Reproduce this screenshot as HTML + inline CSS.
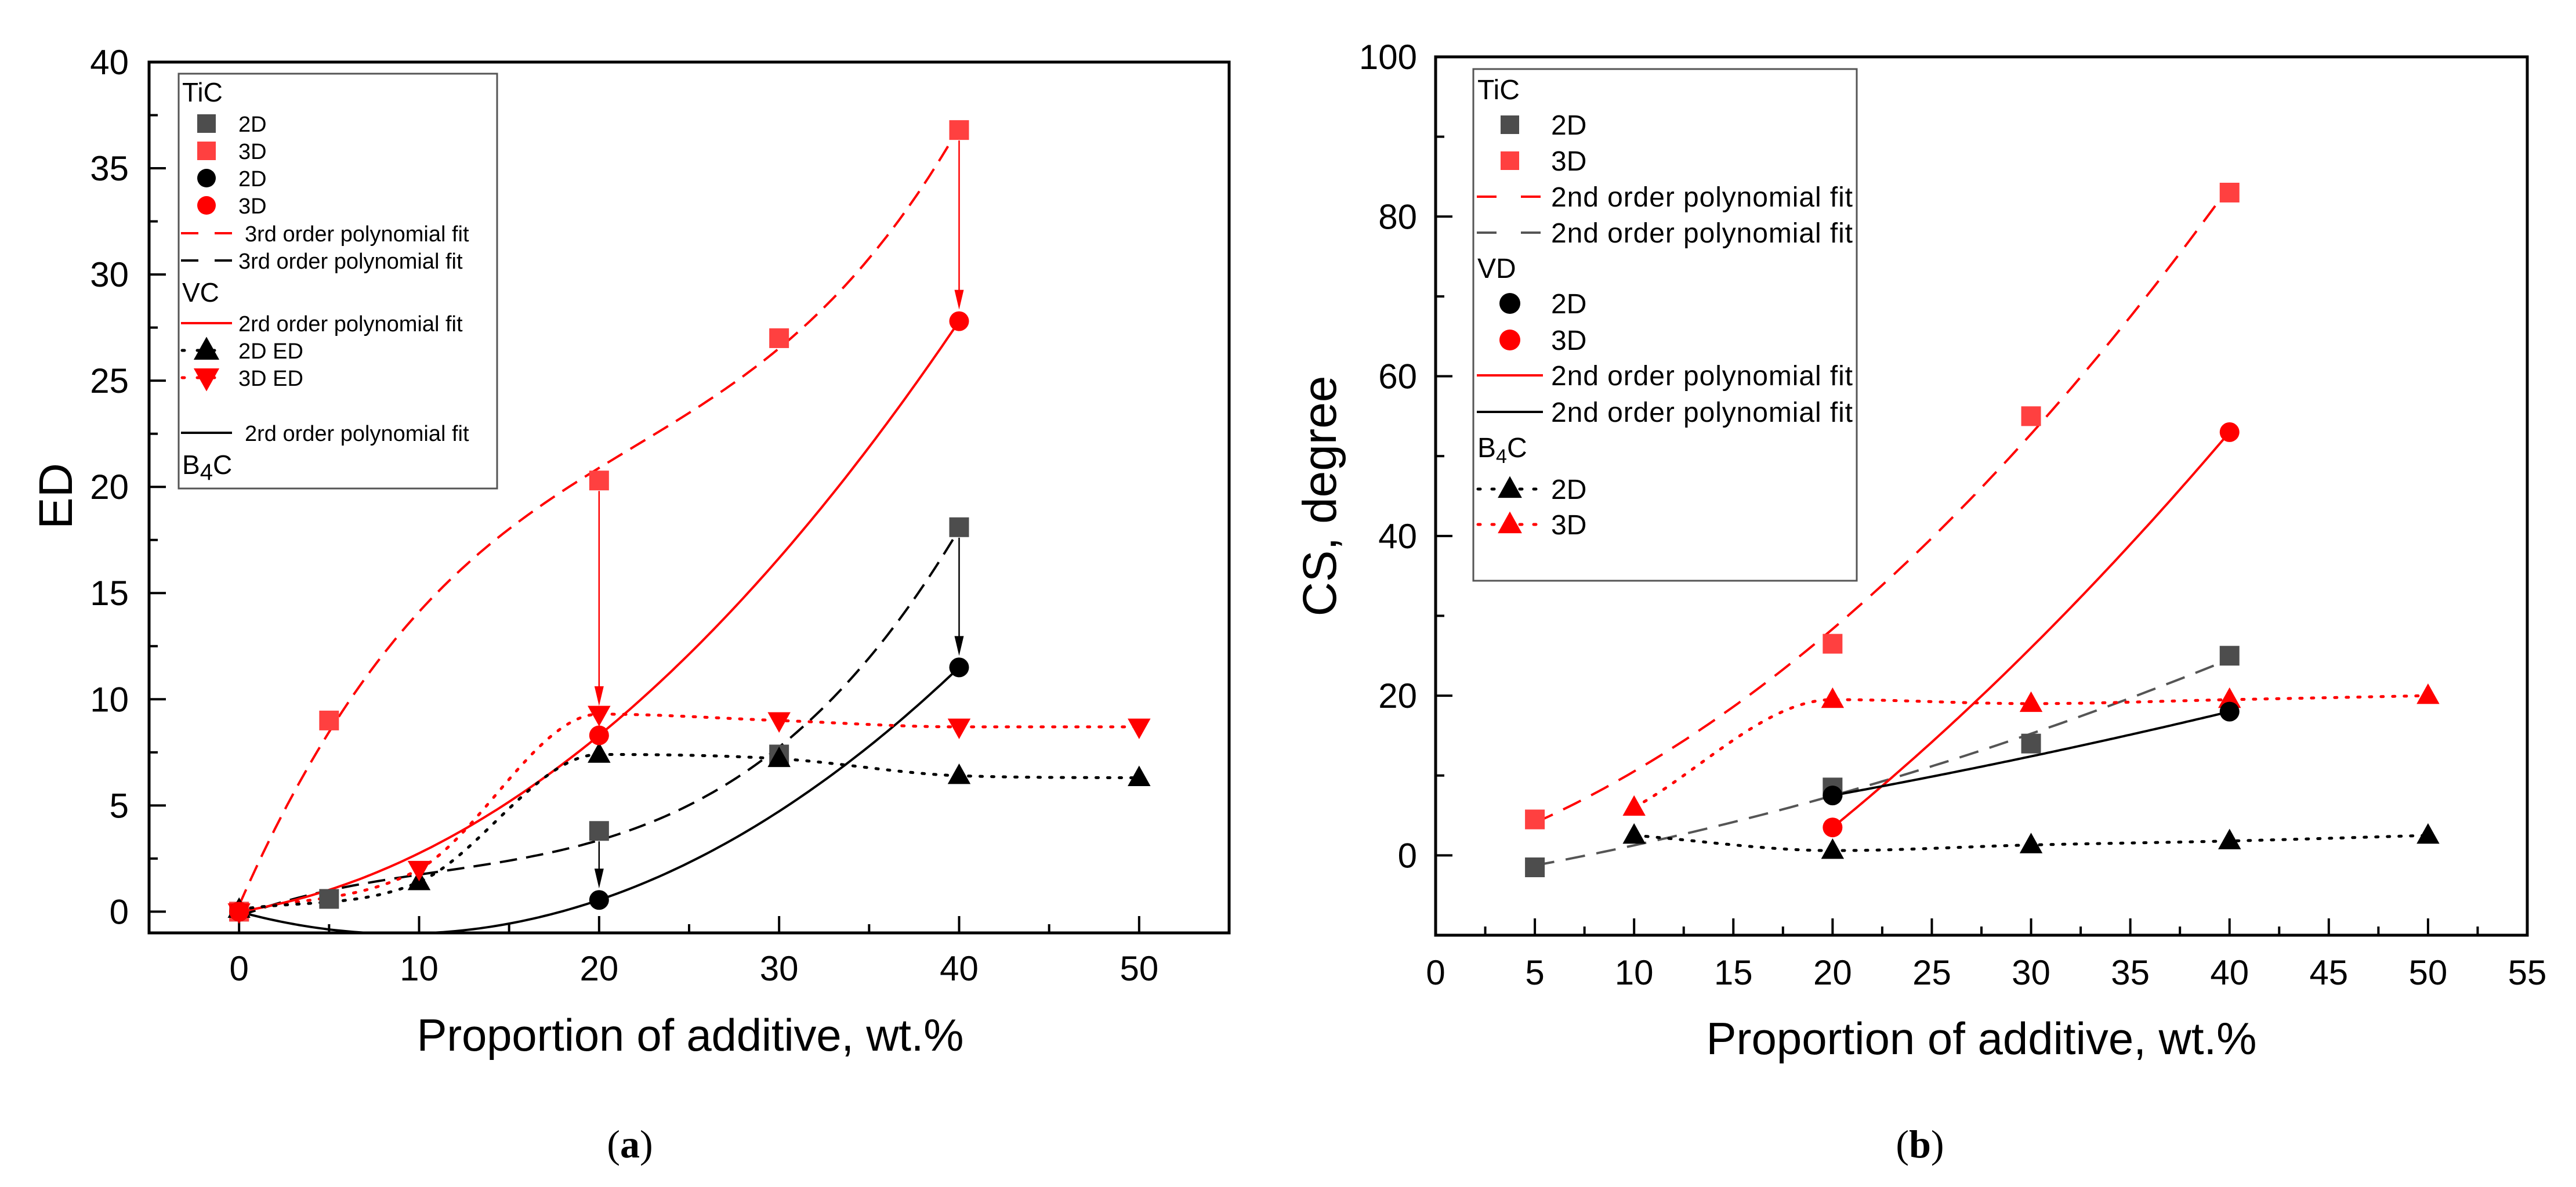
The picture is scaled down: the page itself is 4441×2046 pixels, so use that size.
<!DOCTYPE html>
<html><head><meta charset="utf-8"><style>
html,body{margin:0;padding:0;background:#fff;}
svg{display:block;font-family:"Liberation Sans",Arial,sans-serif;}
</style></head><body>
<svg id="root" width="4441" height="2046" viewBox="0 0 4441 2046" xmlns="http://www.w3.org/2000/svg">
<defs>
<clipPath id="clipL"><rect x="257" y="107" width="1862" height="1501"/></clipPath>
<clipPath id="clipR"><rect x="2475" y="98" width="1882" height="1514"/></clipPath>
</defs>
<g id="chartA"></g>
<g id="chartB"></g>
</svg>
<script>
// ---------- Chart (a) data ----------
const aTic2dX = [0, 5, 20, 30, 40];
const aTic2dY = [0, 0.6, 3.8, 7.4, 18.1];
const aTic3dX = [0, 5, 20, 30, 40];
const aTic3dY = [0, 9.0, 20.3, 27.0, 36.8];
const aCirc2dX = [0, 20, 40];
const aCirc2dY = [0, 0.55, 11.5];
const aCirc3dX = [0, 20, 40];
const aCirc3dY = [0, 8.3, 27.8];
const aTri2dX = [0, 10, 20, 30, 40, 50];
const aTri2dY = [0.1, 1.4, 7.4, 7.2, 6.4, 6.3];
const aTri3dX = [0, 10, 20, 30, 40, 50];
const aTri3dY = [0, 2.0, 9.3, 9.0, 8.7, 8.7];
const aXTicks = [0, 10, 20, 30, 40, 50];
const aYTicks = [0, 5, 10, 15, 20, 25, 30, 35, 40];
// ---------- Chart (b) data ----------
const bTic2dX = [5, 20, 30, 40];
const bTic2dY = [-1.5, 8.5, 14.0, 25.0];
const bTic3dX = [5, 20, 30, 40];
const bTic3dY = [4.5, 26.5, 55.0, 83.0];
const bVd2dX = [20, 40];
const bVd2dY = [7.5, 18.0];
const bVd2dFitMid = [12.4];
const bVd3dX = [20, 40];
const bVd3dY = [3.5, 53.0];
const bVd3dFitMid = [26.0];
const bB2dX = [10, 20, 30, 40, 50];
const bB2dY = [2.5, 0.6, 1.3, 1.8, 2.5];
const bB3dX = [10, 20, 30, 40, 50];
const bB3dY = [6.0, 19.5, 19.0, 19.5, 20.0];
const bXTicks = [0, 5, 10, 15, 20, 25, 30, 35, 40, 45, 50, 55];
const bYTicks = [0, 20, 40, 60, 80, 100];

const NS = "http://www.w3.org/2000/svg";
function mk(parent, tag, attrs, text) {
  const e = document.createElementNS(NS, tag);
  for (const k in attrs) e.setAttribute(k, attrs[k]);
  if (text !== undefined) e.textContent = text;
  parent.appendChild(e);
  return e;
}
const xA = v => 257 + (v + 5) * (1862 / 60);
const yA = v => 107 + (40 - v) * (1501 / 41);
const xB = v => 2475 + v * (1882 / 55);
const yB = v => 98 + (100 - v) * (1514 / 110);

function polyfit(xs, ys, deg) {
  const n = deg + 1;
  const A = [], b = [];
  for (let i = 0; i < n; i++) { A.push(new Array(n).fill(0)); b.push(0); }
  for (let k = 0; k < xs.length; k++) {
    for (let i = 0; i < n; i++) {
      for (let j = 0; j < n; j++) A[i][j] += Math.pow(xs[k], i + j);
      b[i] += ys[k] * Math.pow(xs[k], i);
    }
  }
  for (let i = 0; i < n; i++) {
    let p = i;
    for (let r = i + 1; r < n; r++) if (Math.abs(A[r][i]) > Math.abs(A[p][i])) p = r;
    [A[i], A[p]] = [A[p], A[i]]; [b[i], b[p]] = [b[p], b[i]];
    for (let r = i + 1; r < n; r++) {
      const f = A[r][i] / A[i][i];
      for (let c = i; c < n; c++) A[r][c] -= f * A[i][c];
      b[r] -= f * b[i];
    }
  }
  const c = new Array(n).fill(0);
  for (let i = n - 1; i >= 0; i--) {
    let s = b[i];
    for (let j = i + 1; j < n; j++) s -= A[i][j] * c[j];
    c[i] = s / A[i][i];
  }
  return x => c.reduce((acc, ci, i) => acc + ci * Math.pow(x, i), 0);
}
function fitPath(f, x0, x1, sx, sy) {
  let d = "";
  for (let i = 0; i <= 120; i++) {
    const x = x0 + (x1 - x0) * i / 120;
    d += (i ? "L" : "M") + sx(x).toFixed(1) + "," + sy(f(x)).toFixed(1);
  }
  return d;
}
// monotone cubic (Fritsch-Carlson) in pixel space
function smoothPath(xs, ys, sx, sy) {
  const X = xs.map(sx), Y = ys.map(sy), n = X.length;
  const dl = [], m = [];
  for (let i = 0; i < n - 1; i++) dl.push((Y[i + 1] - Y[i]) / (X[i + 1] - X[i]));
  m[0] = dl[0]; m[n - 1] = dl[n - 2];
  for (let i = 1; i < n - 1; i++) m[i] = (dl[i - 1] * dl[i] <= 0) ? 0 : (dl[i - 1] + dl[i]) / 2;
  for (let i = 0; i < n - 1; i++) {
    if (dl[i] === 0) { m[i] = 0; m[i + 1] = 0; continue; }
    const a = m[i] / dl[i], b = m[i + 1] / dl[i], s = a * a + b * b;
    if (s > 9) { const t = 3 / Math.sqrt(s); m[i] = t * a * dl[i]; m[i + 1] = t * b * dl[i]; }
  }
  let d = "M" + X[0] + "," + Y[0];
  for (let i = 0; i < n - 1; i++) {
    const h = (X[i + 1] - X[i]) / 3;
    d += "C" + (X[i] + h) + "," + (Y[i] + m[i] * h) + " " + (X[i + 1] - h) + "," + (Y[i + 1] - m[i + 1] * h) + " " + X[i + 1] + "," + Y[i + 1];
  }
  return d;
}
function marker(g, type, cx, cy, color, s) {
  s = s || 34;
  let e;
  if (type === "sq") e = mk(g, "rect", {x: cx - s / 2, y: cy - s / 2, width: s, height: s, fill: color});
  else if (type === "ci") e = mk(g, "circle", {cx: cx, cy: cy, r: s / 2, fill: color});
  else if (type === "tu") e = mk(g, "polygon", {points: `${cx},${cy - s * 0.62} ${cx - s * 0.58},${cy + s * 0.42} ${cx + s * 0.58},${cy + s * 0.42}`, fill: color});
  else e = mk(g, "polygon", {points: `${cx},${cy + s * 0.62} ${cx - s * 0.58},${cy - s * 0.42} ${cx + s * 0.58},${cy - s * 0.42}`, fill: color});
  return e;
}
function series(g, xs, ys, sx, sy, type, color, name) {
  const sg = mk(g, "g", {});
  
  
  xs.forEach((x, i) => {
    const m = marker(sg, type, sx(x), sy(ys[i]), color);
    
    
  });
}
function line(g, d, color, w, dash, name, clip) {
  const a = {d: d, fill: "none", stroke: color, "stroke-width": w};
  if (dash) a["stroke-dasharray"] = dash;
  if (clip) a["clip-path"] = clip;
  if (dash && dash.startsWith("4")) a["stroke-linecap"] = "round";
  const e = mk(g, "path", a);
  
  
}
function arrow(g, x, y1, y2, color, name) {
  const ag = mk(g, "g", {});
  
  
  mk(ag, "line", {x1: x, y1: y1, x2: x, y2: y2 - 30, stroke: color, "stroke-width": 2.5});
  mk(ag, "polygon", {points: `${x},${y2} ${x - 8},${y2 - 34} ${x + 8},${y2 - 34}`, fill: color});
}
function axes(g, L, T, R, B, xt, yt, sx, sy, xMinor, yMinor, xLabY, yLabX, xDom, yDom) {
  const ag = mk(g, "g", {});
  
  
  mk(ag, "rect", {x: L, y: T, width: R - L, height: B - T, fill: "none", stroke: "#000", "stroke-width": 5});
  xt.forEach(v => {
    mk(ag, "line", {x1: sx(v), x2: sx(v), y1: B, y2: B - 29, stroke: "#000", "stroke-width": 4});
    const t = mk(ag, "text", {x: sx(v), y: xLabY, "font-size": 60, "text-anchor": "middle"}, String(v));
    
    
  });
  for (let v = xDom[0]; v <= xDom[1] + 1e-9; v += xMinor) {
    if (xt.some(t => Math.abs(t - v) < 1e-9)) continue;
    mk(ag, "line", {x1: sx(v), x2: sx(v), y1: B, y2: B - 15, stroke: "#000", "stroke-width": 4});
  }
  yt.forEach(v => {
    mk(ag, "line", {x1: L, x2: L + 29, y1: sy(v), y2: sy(v), stroke: "#000", "stroke-width": 4});
    const t = mk(ag, "text", {x: yLabX, y: sy(v) + 21, "font-size": 60, "text-anchor": "end"}, String(v));
    
    
  });
  for (let v = yDom[0]; v <= yDom[1] + 1e-9; v += yMinor) {
    if (yt.some(t => Math.abs(t - v) < 1e-9)) continue;
    mk(ag, "line", {x1: L, x2: L + 15, y1: sy(v), y2: sy(v), stroke: "#000", "stroke-width": 4});
  }
}
function txt(g, x, y, s, size, name, extra) {
  const a = Object.assign({x: x, y: y, "font-size": size}, extra || {});
  const t = mk(g, "text", a, s);
  
  
  return t;
}

const RED = "#ff0000", LRED = "#ff4040", GREY = "#4d4d4d";

// ======== Chart A ========
(function () {
  const g = document.getElementById("chartA");
  axes(g, 257, 107, 2119, 1608, aXTicks, aYTicks, xA, yA, 5, 2.5, 1690, 222, [0, 50], [0, 40]);
  line(g, fitPath(polyfit(aTic3dX, aTic3dY, 3), 0, 40, xA, yA), RED, 4, "30 16", "tic-3d-fit", "url(#clipL)");
  line(g, fitPath(polyfit(aTic2dX, aTic2dY, 3), 0, 40, xA, yA), "#000", 4, "30 16", "tic-2d-fit", "url(#clipL)");
  line(g, fitPath(polyfit(aCirc3dX, aCirc3dY, 2), 0, 40, xA, yA), RED, 4, null, "vc-3d-fit", "url(#clipL)");
  line(g, fitPath(polyfit(aCirc2dX, aCirc2dY, 2), 0, 40, xA, yA), "#000", 4, null, "vc-2d-fit", "url(#clipL)");
  line(g, smoothPath(aTri3dX, aTri3dY, xA, yA), RED, 5, "4 16", "b4c-3d-line");
  line(g, smoothPath(aTri2dX, aTri2dY, xA, yA), "#000", 5, "4 16", "b4c-2d-line");
  arrow(g, xA(20), yA(aTic3dY[2]) + 18, yA(aTri3dY[2]) - 14, RED, "arrow-20-red");
  arrow(g, xA(40), yA(aTic3dY[4]) + 18, yA(aCirc3dY[2]) - 20, RED, "arrow-40-red");
  arrow(g, xA(20), yA(aTic2dY[2]) + 18, yA(aCirc2dY[1]) - 20, "#000", "arrow-20-black");
  arrow(g, xA(40), yA(aTic2dY[4]) + 18, yA(aCirc2dY[2]) - 20, "#000", "arrow-40-black");
  series(g, aTic2dX, aTic2dY, xA, yA, "sq", GREY, "tic-2d");
  series(g, aTic3dX, aTic3dY, xA, yA, "sq", LRED, "tic-3d");
  series(g, aTri2dX, aTri2dY, xA, yA, "tu", "#000", "b4c-2d-ed");
  series(g, aTri3dX, aTri3dY, xA, yA, "td", RED, "b4c-3d-ed");
  series(g, aCirc2dX, aCirc2dY, xA, yA, "ci", "#000", "vc-2d");
  series(g, aCirc3dX, aCirc3dY, xA, yA, "ci", RED, "vc-3d");
  txt(g, 1190, 1811, "Proportion of additive, wt.%", 78, "x-axis-title", {"text-anchor": "middle", textLength: 943});
  txt(g, 0, 0, "ED", 82, "y-axis-title", {"text-anchor": "middle", transform: "translate(124,855) rotate(-90)"});
  const cap = txt(g, 1086, 1995, "", 68, "caption-a", {"text-anchor": "middle", "font-family": "Liberation Serif, serif"});
  cap.innerHTML = '(<tspan font-weight="bold">a</tspan>)';
  const lg = mk(g, "g", {});
  
  
  mk(lg, "rect", {x: 308, y: 127, width: 549, height: 715, fill: "#fff", stroke: "#555", "stroke-width": 3});
  const F = 38, mx = 356, tx = 411;
  txt(lg, 314, 175, "TiC", 46, "legend-group-tic");
  const rows = [[213, "sq", GREY, "2D"], [260, "sq", LRED, "3D"], [307, "ci", "#000", "2D"], [354, "ci", RED, "3D"]];
  rows.forEach(r => { marker(lg, r[1], mx, r[0], r[2], 32); txt(lg, tx, r[0] + 14, r[3], F, "legend-entry"); });
  mk(lg, "path", {d: "M312,402H400", stroke: RED, "stroke-width": 4, "stroke-dasharray": "30 28"});
  txt(lg, 422, 416, "3rd order polynomial fit", F, "legend-entry");
  mk(lg, "path", {d: "M312,449H400", stroke: "#000", "stroke-width": 4, "stroke-dasharray": "30 28"});
  txt(lg, 411, 463, "3rd order polynomial fit", F, "legend-entry");
  txt(lg, 314, 520, "VC", 46, "legend-group-vc");
  mk(lg, "path", {d: "M312,557H400", stroke: RED, "stroke-width": 4});
  txt(lg, 411, 571, "2rd order polynomial fit", F, "legend-entry");
  mk(lg, "path", {d: "M314,604H390", stroke: "#000", "stroke-width": 5, "stroke-dasharray": "4 22", "stroke-linecap": "round"});
  marker(lg, "tu", mx, 604, "#000", 38); txt(lg, tx, 618, "2D ED", F, "legend-entry");
  mk(lg, "path", {d: "M314,651H390", stroke: RED, "stroke-width": 5, "stroke-dasharray": "4 22", "stroke-linecap": "round"});
  marker(lg, "td", mx, 651, RED, 38); txt(lg, tx, 665, "3D ED", F, "legend-entry");
  mk(lg, "path", {d: "M312,746H400", stroke: "#000", "stroke-width": 4});
  txt(lg, 422, 760, "2rd order polynomial fit", F, "legend-entry");
  const b4 = txt(lg, 314, 817, "", 46, "legend-group-b4c");
  b4.innerHTML = 'B<tspan dy="10" font-size="40">4</tspan><tspan dy="-10">C</tspan>';
})();

// ======== Chart B ========
(function () {
  const g = document.getElementById("chartB");
  axes(g, 2475, 98, 4357, 1612, bXTicks, bYTicks, xB, yB, 2.5, 10, 1697, 2443, [0, 55], [-10, 100]);
  line(g, fitPath(polyfit(bTic3dX, bTic3dY, 2), 5, 40, xB, yB), RED, 4, "34 20", "tic-3d-fit");
  line(g, fitPath(polyfit(bTic2dX, bTic2dY, 2), 5, 40, xB, yB), "#555", 4, "34 20", "tic-2d-fit");
  line(g, fitPath(polyfit([bVd3dX[0], 30, bVd3dX[1]], [bVd3dY[0], bVd3dFitMid[0], bVd3dY[1]], 2), 20, 40, xB, yB), RED, 4, null, "vd-3d-fit");
  line(g, fitPath(polyfit([bVd2dX[0], 30, bVd2dX[1]], [bVd2dY[0], bVd2dFitMid[0], bVd2dY[1]], 2), 20, 40, xB, yB), "#000", 4, null, "vd-2d-fit");
  line(g, smoothPath(bB3dX, bB3dY, xB, yB), RED, 5, "4 16", "b4c-3d-line");
  line(g, smoothPath(bB2dX, bB2dY, xB, yB), "#000", 5, "4 16", "b4c-2d-line");
  series(g, bTic2dX, bTic2dY, xB, yB, "sq", GREY, "tic-2d");
  series(g, bTic3dX, bTic3dY, xB, yB, "sq", LRED, "tic-3d");
  series(g, bB2dX, bB2dY, xB, yB, "tu", "#000", "b4c-2d");
  series(g, bB3dX, bB3dY, xB, yB, "tu", RED, "b4c-3d");
  series(g, bVd2dX, bVd2dY, xB, yB, "ci", "#000", "vd-2d");
  series(g, bVd3dX, bVd3dY, xB, yB, "ci", RED, "vd-3d");
  txt(g, 3416, 1817, "Proportion of additive, wt.%", 78, "x-axis-title", {"text-anchor": "middle", textLength: 949});
  txt(g, 0, 0, "CS, degree", 82, "y-axis-title", {"text-anchor": "middle", transform: "translate(2303,855) rotate(-90)"});
  const cap = txt(g, 3310, 1995, "", 68, "caption-b", {"text-anchor": "middle", "font-family": "Liberation Serif, serif"});
  cap.innerHTML = '(<tspan font-weight="bold">b</tspan>)';
  const lg = mk(g, "g", {});
  
  
  mk(lg, "rect", {x: 2540, y: 119, width: 661, height: 882, fill: "#fff", stroke: "#555", "stroke-width": 3});
  const F = 48, mx = 2603, tx = 2674;
  txt(lg, 2547, 171, "TiC", 48, "legend-group-tic");
  marker(lg, "sq", mx, 215, GREY, 32); txt(lg, tx, 232, "2D", F, "legend-entry");
  marker(lg, "sq", mx, 277, LRED, 32); txt(lg, tx, 294, "3D", F, "legend-entry");
  mk(lg, "path", {d: "M2546,339H2658", stroke: RED, "stroke-width": 4, "stroke-dasharray": "34 42"});
  txt(lg, tx, 356, "2nd order polynomial fit", F, "legend-entry", {textLength: 520});
  mk(lg, "path", {d: "M2546,401H2658", stroke: "#555", "stroke-width": 4, "stroke-dasharray": "34 42"});
  txt(lg, tx, 418, "2nd order polynomial fit", F, "legend-entry", {textLength: 520});
  txt(lg, 2547, 479, "VD", 48, "legend-group-vd");
  marker(lg, "ci", mx, 523, "#000", 36); txt(lg, tx, 540, "2D", F, "legend-entry");
  marker(lg, "ci", mx, 586, RED, 36); txt(lg, tx, 603, "3D", F, "legend-entry");
  mk(lg, "path", {d: "M2546,647H2660", stroke: RED, "stroke-width": 4});
  txt(lg, tx, 664, "2nd order polynomial fit", F, "legend-entry", {textLength: 520});
  mk(lg, "path", {d: "M2546,710H2660", stroke: "#000", "stroke-width": 4});
  txt(lg, tx, 727, "2nd order polynomial fit", F, "legend-entry", {textLength: 520});
  const b4 = txt(lg, 2547, 788, "", 48, "legend-group-b4c");
  b4.innerHTML = 'B<tspan dy="10" font-size="34">4</tspan><tspan dy="-10">C</tspan>';
  mk(lg, "path", {d: "M2548,843H2660", stroke: "#000", "stroke-width": 5, "stroke-dasharray": "4 20", "stroke-linecap": "round"});
  marker(lg, "tu", mx, 843, "#000", 36); txt(lg, tx, 860, "2D", F, "legend-entry");
  mk(lg, "path", {d: "M2548,904H2660", stroke: RED, "stroke-width": 5, "stroke-dasharray": "4 20", "stroke-linecap": "round"});
  marker(lg, "tu", mx, 904, RED, 36); txt(lg, tx, 921, "3D", F, "legend-entry");
})();
</script>
</body></html>
